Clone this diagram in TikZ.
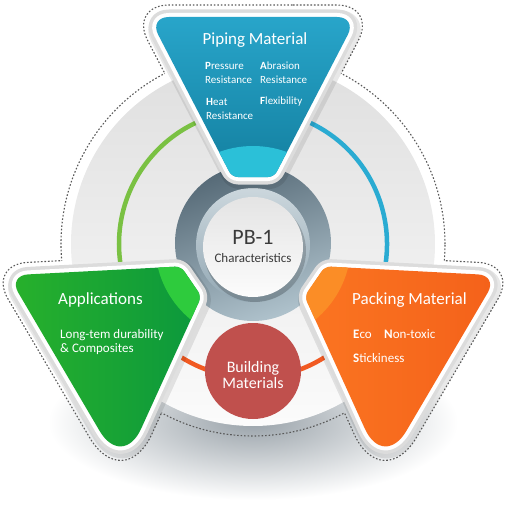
\documentclass[tikz,border=0pt]{standalone}
\usepackage{fontspec}
\setmainfont{Carlito}

\definecolor{pipeTop}{HTML}{28A5CA}
\definecolor{pipeBot}{HTML}{137F9F}
\definecolor{pipeLite}{HTML}{2BC0D8}
\definecolor{appLeft}{HTML}{28B12B}
\definecolor{appRight}{HTML}{0B983D}
\definecolor{appLite}{HTML}{2ECB3D}
\definecolor{packLeft}{HTML}{F4611A}
\definecolor{packRight}{HTML}{FB7521}
\definecolor{packLite}{HTML}{FB8D26}
\definecolor{arcGreen}{HTML}{7AC143}
\definecolor{arcBlue}{HTML}{2AABD2}
\definecolor{arcOrange}{HTML}{F15A22}
\definecolor{ringDark}{HTML}{566A77}
\definecolor{ringLight}{HTML}{AFC2CC}
\definecolor{innerTop}{HTML}{CCD7DD}
\definecolor{innerBot}{HTML}{93A8B4}
\definecolor{coreTop}{HTML}{E4E4E4}
\definecolor{coreBot}{HTML}{FCFCFC}
\definecolor{buildRed}{HTML}{C0504D}
\definecolor{shadowGrey}{HTML}{9AA3AA}
\definecolor{frameGrey}{HTML}{DCDCDC}
\definecolor{textDark}{HTML}{3A3A3A}

\newcommand{\pipepath}{(0,0) [rounded corners=20] -- (104,0) [rounded corners=6] -- (21,-160) -- (-21,-160) [rounded corners=20] -- (-104,0) -- cycle}
\newcommand{\sidepath}{(-20,0) [rounded corners=6] -- (69,0) -- (87.9,-31) [rounded corners=45] -- (0,-200) [rounded corners=20] -- (-104,0) -- cycle}
\newcommand{\pipedots}{(bdm) [rounded corners=40] -- (bd1) [rounded corners=8] -- (bd2) -- (bd3) [rounded corners=40] -- (bd4) -- cycle}
\newcommand{\appdots}{(gdm) [rounded corners=12] -- (gd1) -- (gd2) [rounded corners=68] -- (gd3) [rounded corners=40] -- (gd4) -- cycle}
\newcommand{\packdots}{(odm) [rounded corners=12] -- (od1) -- (od2) [rounded corners=68] -- (od3) [rounded corners=40] -- (od4) -- cycle}

\begin{document}
\begin{tikzpicture}[x=1pt, y=1pt,
		eoclip/.code={\pgfseteorule},
		btri/.style={shift={(0,227)}},
		gtri/.style={shift={(-141,-26)}, rotate=3},
		otri/.style={shift={(141,-26)}, rotate=-3, xscale=-1},
		dotline/.style={draw=black!65, line width=1.1pt, dash pattern=on 1.6pt off 1.9pt},
		tshadow/.style={draw=black, opacity=0.09, line width=19pt, line join=round},
		tframe/.style={draw=frameGrey, line width=15pt, line join=round},
		tinner/.style={draw=white, line width=8pt, line join=round},
		headtext/.style={text=white, font=\fontsize{17}{20}\selectfont, inner sep=0pt},
		itemtext/.style={text=white, font=\fontsize{11}{14}\selectfont, align=left, anchor=west, inner sep=0pt},
		itembig/.style={text=white, font=\fontsize{13}{14}\selectfont, align=left, anchor=west, inner sep=0pt}
	]
	\useasboundingbox (-253,-268) rectangle (254,244);

	\begin{scope}[btri]
		\coordinate (bdm) at (0,12);
		\coordinate (bd1) at (123.8,12);
		\coordinate (bd2) at (28.1,-172);
		\coordinate (bd3) at (-28.1,-172);
		\coordinate (bd4) at (-123.8,12);
	\end{scope}
	\begin{scope}[gtri]
		\coordinate (gdm) at (-20,12);
		\coordinate (gd1) at (75.7,12);
		\coordinate (gd2) at (101.6,-30.6);
		\coordinate (gd3) at (0,-226);
		\coordinate (gd4) at (-123.8,12);
	\end{scope}
	\begin{scope}[otri]
		\coordinate (odm) at (-20,12);
		\coordinate (od1) at (75.7,12);
		\coordinate (od2) at (101.6,-30.6);
		\coordinate (od3) at (0,-226);
		\coordinate (od4) at (-123.8,12);
	\end{scope}

	\shade[inner color=shadowGrey, outer color=white] (0,-178) ellipse (205 and 78);

	\begin{scope}
		\clip[eoclip] (-260,-270) rectangle (260,250) \pipedots \appdots \packdots;
		\draw[dotline] (0,0) circle (192);
	\end{scope}
	\begin{scope}
		\clip[eoclip] (-260,-270) rectangle (260,250) (0,0) circle (192);
		\draw[dotline] \pipedots;
		\draw[dotline] \appdots;
		\draw[dotline] \packdots;
	\end{scope}

	\shade[top color=gray!25, bottom color=white!97!gray] (0,0) circle (182);
	\draw[line width=4.5pt, arcGreen] (90:134) arc[start angle=90, end angle=210, radius=134];
	\draw[line width=4.5pt, arcBlue] (-30:134) arc[start angle=-30, end angle=90, radius=134];
	\draw[line width=4.5pt, arcOrange] (210:134) arc[start angle=210, end angle=330, radius=134];

	\shade[top color=ringDark, bottom color=ringLight, shading angle=20] (0,1) circle (78);
	\shade[top color=innerTop, bottom color=innerBot] (0,-1) circle (57);
	\fill[black, opacity=0.18] (2,-7) circle (51);
	\shade[top color=coreTop, bottom color=coreBot] (0,-3) circle (50);
	\fill[buildRed] (0,-127) circle (48);

	\begin{scope}[btri]
		\draw[tshadow, shift={(1.5,-2.5)}] \pipepath;
		\draw[tframe] \pipepath;
		\draw[tinner] \pipepath;
		\shade[top color=pipeTop, bottom color=pipeBot] \pipepath;
		\begin{scope}
			\clip \pipepath;
			\fill[pipeLite] (0,-227) circle (98);
		\end{scope}
	\end{scope}
	\begin{scope}[gtri]
		\draw[tshadow, shift={(1.5,-2.5)}] \sidepath;
		\draw[tframe] \sidepath;
		\draw[tinner] \sidepath;
		\shade[left color=appLeft, right color=appRight] \sidepath;
		\begin{scope}
			\clip \sidepath;
			\fill[appLite] (142.2,18.6) circle (98);
		\end{scope}
	\end{scope}
	\begin{scope}[otri]
		\draw[tshadow, shift={(-1.5,-2.5)}] \sidepath;
		\draw[tframe] \sidepath;
		\draw[tinner] \sidepath;
		\shade[left color=packRight, right color=packLeft] \sidepath;
		\begin{scope}
			\clip \sidepath;
			\fill[packLite] (142.2,18.6) circle (98);
		\end{scope}
	\end{scope}

	\node(pipehead)[headtext] at (2,204) {Piping Material};
	\node(pressure)[itemtext] at (-48,171) {\textbf{P}ressure\\Resistance};
	\node(abrasion)[itemtext] at (7,171) {\textbf{A}brasion\\Resistance};
	\node(heat)[itemtext] at (-47,135) {\textbf{H}eat\\Resistance};
	\node(flex)[itemtext] at (7,142) {\textbf{F}lexibility};

	\node(apphead)[headtext, anchor=west] at (-195,-56) {Applications};
	\node(appitem)[itembig] at (-193,-98) {Long-tem durability\\\& Composites};

	\node(packhead)[headtext, anchor=west] at (99,-56) {Packing Material};
	\node(eco)[itembig] at (100,-90) {\textbf{E}co};
	\node(nontoxic)[itembig] at (131,-90) {\textbf{N}on-toxic};
	\node(sticky)[itembig] at (100,-114) {\textbf{S}tickiness};

	\node(pbone)[text=textDark, font=\fontsize{22}{24}\selectfont, inner sep=0pt] at (0,7) {PB-1};
	\node(charac)[text=textDark, font=\fontsize{13}{15}\selectfont, inner sep=0pt] at (0,-14) {Characteristics};
	\node(build)[text=white, font=\fontsize{16}{16.5}\selectfont, align=center, inner sep=0pt] at (0,-131) {Building\\Materials};
\end{tikzpicture}
\end{document}
